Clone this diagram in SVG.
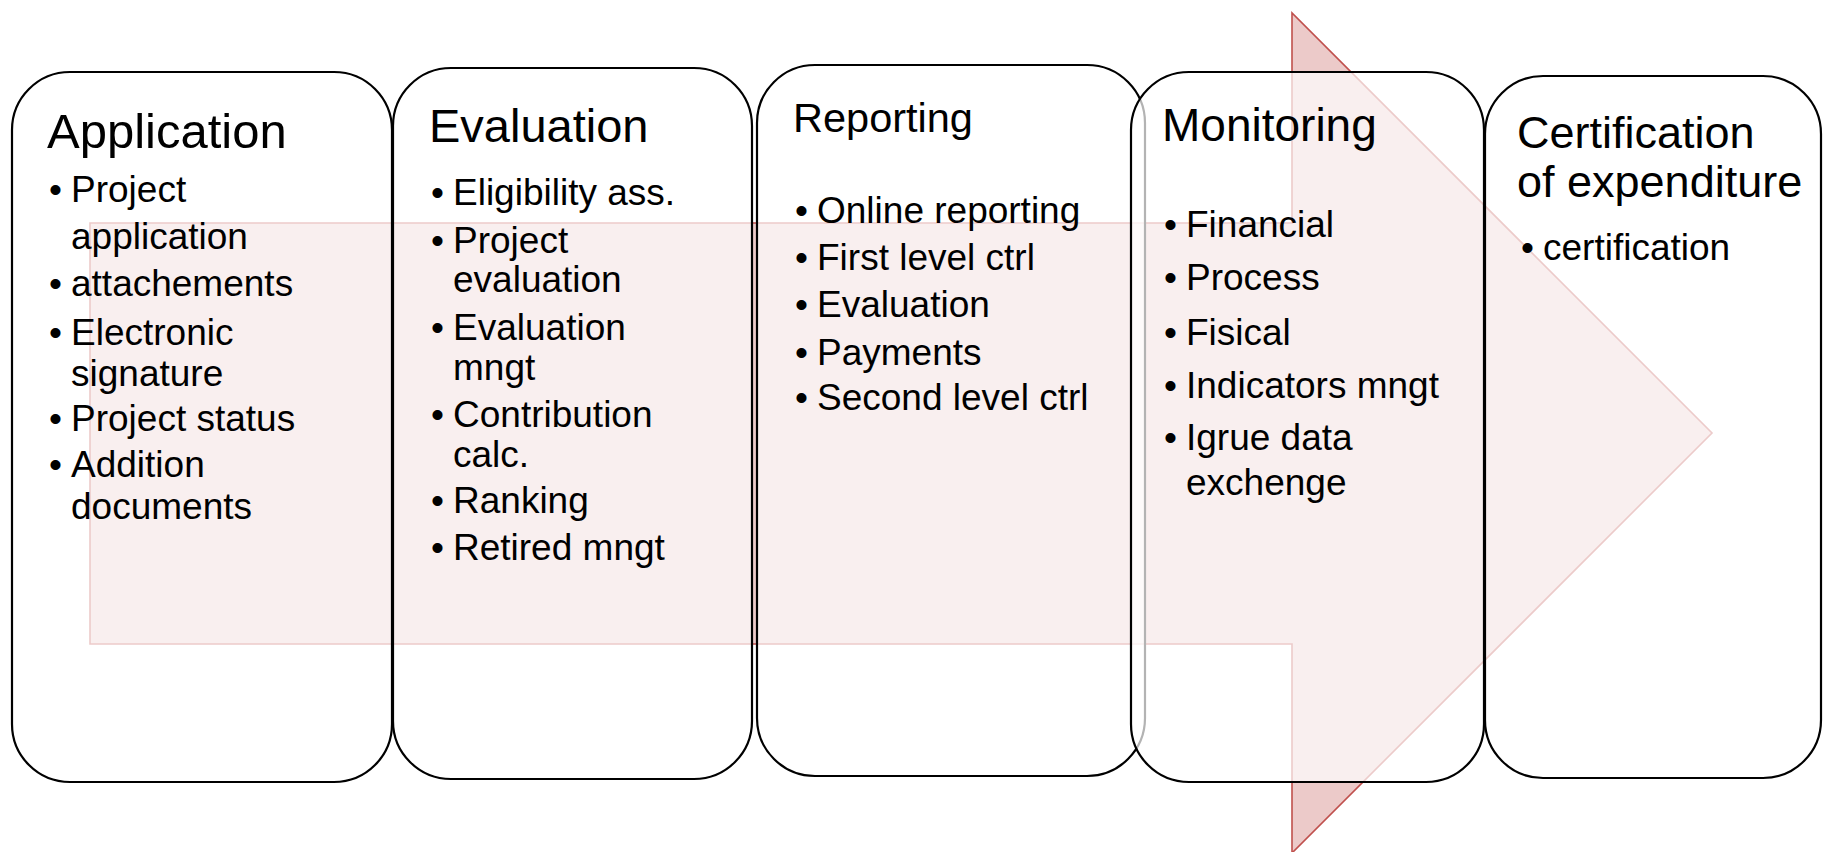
<svg xmlns="http://www.w3.org/2000/svg" width="1823" height="852" viewBox="0 0 1823 852">
<style>
.box{fill:#ffffff;fill-opacity:0.7;stroke:#000;stroke-width:2.2}
.h{font-family:"Liberation Sans",Arial,sans-serif;fill:#000}
.t{font-family:"Liberation Sans",Arial,sans-serif;font-size:37px;fill:#000}
</style>
<rect width="1823" height="852" fill="#fff"/>
<g id="connectors">
<path id="big-arrow" d="M90 223 H1292 V13 L1712 433 L1292 853 V644 H90 Z" fill="#c0504d" fill-opacity="0.3" stroke="#c0504d" stroke-width="1.6"/>
</g>
<g id="node-application">
<rect class="box" x="12" y="72" width="380" height="710" rx="58"/>
<text class="h" x="47" y="148" font-size="49">Application</text>
<text class="t" x="49" y="202">•</text><text class="t" x="71" y="202">Project</text>
<text class="t" x="71" y="249">application</text>
<text class="t" x="49" y="296">•</text><text class="t" x="71" y="296">attachements</text>
<text class="t" x="49" y="345">•</text><text class="t" x="71" y="345">Electronic</text>
<text class="t" x="71" y="386">signature</text>
<text class="t" x="49" y="431">•</text><text class="t" x="71" y="431">Project status</text>
<text class="t" x="49" y="477">•</text><text class="t" x="71" y="477">Addition</text>
<text class="t" x="71" y="519">documents</text>
</g>
<g id="node-evaluation">
<rect class="box" x="393" y="68" width="359" height="711" rx="58"/>
<text class="h" x="429" y="142" font-size="47">Evaluation</text>
<text class="t" x="431" y="205">•</text><text class="t" x="453" y="205">Eligibility ass.</text>
<text class="t" x="431" y="253">•</text><text class="t" x="453" y="253">Project</text>
<text class="t" x="453" y="292">evaluation</text>
<text class="t" x="431" y="340">•</text><text class="t" x="453" y="340">Evaluation</text>
<text class="t" x="453" y="380">mngt</text>
<text class="t" x="431" y="427">•</text><text class="t" x="453" y="427">Contribution</text>
<text class="t" x="453" y="467">calc.</text>
<text class="t" x="431" y="513">•</text><text class="t" x="453" y="513">Ranking</text>
<text class="t" x="431" y="560">•</text><text class="t" x="453" y="560">Retired mngt</text>
</g>
<g id="node-reporting">
<rect class="box" x="757" y="65" width="388" height="711" rx="58"/>
<text class="h" x="793" y="132" font-size="41.5">Reporting</text>
<text class="t" x="795" y="223">•</text><text class="t" x="817" y="223">Online reporting</text>
<text class="t" x="795" y="270">•</text><text class="t" x="817" y="270">First level ctrl</text>
<text class="t" x="795" y="317">•</text><text class="t" x="817" y="317">Evaluation</text>
<text class="t" x="795" y="365">•</text><text class="t" x="817" y="365">Payments</text>
<text class="t" x="795" y="410">•</text><text class="t" x="817" y="410">Second level ctrl</text>
</g>
<g id="node-monitoring">
<rect class="box" x="1131" y="72" width="353" height="710" rx="58"/>
<text class="h" x="1162" y="141" font-size="46">Monitoring</text>
<text class="t" x="1164" y="237">•</text><text class="t" x="1186" y="237">Financial</text>
<text class="t" x="1164" y="290">•</text><text class="t" x="1186" y="290">Process</text>
<text class="t" x="1164" y="345">•</text><text class="t" x="1186" y="345">Fisical</text>
<text class="t" x="1164" y="398">•</text><text class="t" x="1186" y="398">Indicators mngt</text>
<text class="t" x="1164" y="450">•</text><text class="t" x="1186" y="450">Igrue data</text>
<text class="t" x="1186" y="495">exchenge</text>
</g>
<g id="node-certification">
<rect class="box" x="1485" y="76" width="336" height="702" rx="58"/>
<text class="h" x="1517" y="148" font-size="45">Certification</text>
<text class="h" x="1517" y="197" font-size="45">of expenditure</text>
<text class="t" x="1521" y="260">•</text><text class="t" x="1543" y="260">certification</text>
</g>
</svg>
